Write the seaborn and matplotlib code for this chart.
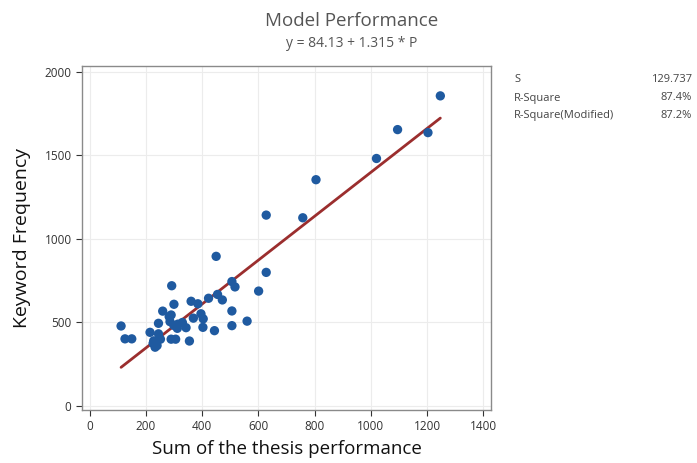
import numpy as np
import pandas as pd
import matplotlib
matplotlib.use("Agg")
import matplotlib.pyplot as plt
import seaborn as sns

# data
thesis_sum = [1247, 1095, 1203, 1020, 805, 758, 628, 628, 601, 450,
              506, 517, 455, 472, 423, 385, 361, 396, 369, 404,
              403, 444, 506, 506, 560, 292, 300, 260, 245, 283,
              290, 286, 300, 314, 330, 343, 312, 355, 290, 306,
              215, 245, 252, 228, 233, 240, 112, 126, 150, 226]
keyword_freq = [1857, 1655, 1637, 1482, 1355, 1127, 1143, 800, 688, 896,
                745, 713, 668, 635, 645, 612, 627, 552, 526, 522,
                471, 451, 569, 481, 508, 720, 609, 568, 495, 535,
                545, 505, 482, 490, 500, 469, 465, 389, 400, 400,
                441, 432, 400, 390, 352, 362, 479, 402, 402, 375]
intercept = 84.13
slope = 1.315
stat_names = ["S", "R-Square", "R-Square(Modified)"]
stat_values = ["129.737", "87.4%", "87.2%"]

df = pd.DataFrame({"P": thesis_sum, "y": keyword_freq})
fit_x = np.array([df["P"].min(), df["P"].max()])
fit = pd.DataFrame({"P": fit_x, "y": intercept + slope * fit_x})

sns.set_style("white")
plt.rcParams["font.family"] = ["Open Sans", "DejaVu Sans"]

fig = plt.figure(figsize=(6.97, 4.63), dpi=100)
ax = fig.add_axes([0.1176, 0.1145, 0.5868, 0.743])

ax.grid(True, color="#ececec", linewidth=0.8)
ax.set_axisbelow(True)
sns.lineplot(data=fit, x="P", y="y", ax=ax, color="#9b2e2e", linewidth=2, zorder=2)
sns.scatterplot(data=df, x="P", y="y", ax=ax, color="#1f5aa0", s=45,
                edgecolor="none", zorder=3)

ax.set_xlim(-27, 1427)
ax.set_ylim(-24, 2036)
ax.set_xticks(range(0, 1401, 200))
ax.set_yticks(range(0, 2001, 500))
ax.tick_params(axis="both", labelsize=8.5, colors="#333333", length=4,
               direction="out", bottom=True, left=True)
for s in ax.spines.values():
    s.set_color("#8a8a8a")
    s.set_linewidth(1)

ax.set_xlabel("Sum of the thesis performance", fontsize=13.5, color="#111111", labelpad=5)
ax.set_ylabel("Keyword Frequency", fontsize=14, color="#111111", labelpad=10)

fig.text(0.505, 0.955, "Model Performance", ha="center", va="center",
         fontsize=13.5, color="#555555")
fig.text(0.505, 0.905, "y = 84.13 + 1.315 * P", ha="center", va="center",
         fontsize=10, color="#555555")

for i, (n, v) in enumerate(zip(stat_names, stat_values)):
    yy = 1 - (80 + 18 * i) / 463
    fig.text(514 / 697, yy, n, ha="left", va="center", fontsize=8, color="#444444")
    fig.text(692 / 697, yy, v, ha="right", va="center", fontsize=8, color="#444444")

fig.savefig("out.png", dpi=100)
